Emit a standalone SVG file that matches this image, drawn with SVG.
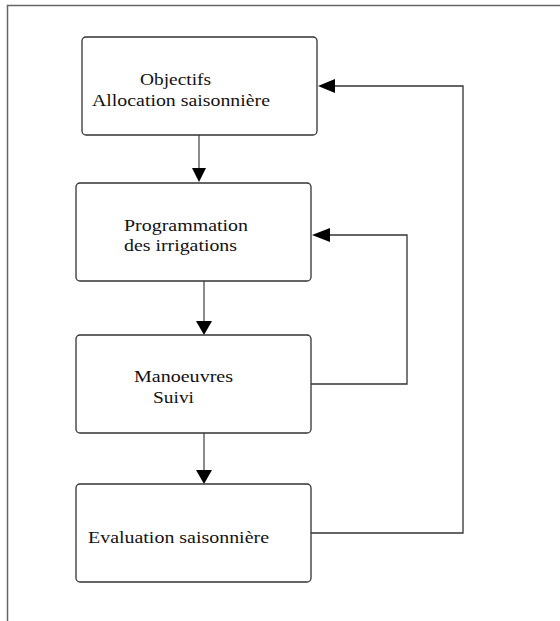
<svg xmlns="http://www.w3.org/2000/svg" width="560" height="621" viewBox="0 0 560 621">
<defs>
<style>
.box{fill:#fff;stroke:#333;stroke-width:1.3}
.ln{fill:none;stroke:#333;stroke-width:1.3}
.lg{fill:none;stroke:#666;stroke-width:1.5}
.ah{fill:#000;stroke:none}
text{font-family:"Liberation Serif","Times New Roman",serif;font-size:16.5px;fill:#111}
</style>
</defs>
<rect width="560" height="621" fill="#fff"/>
<path class="lg" d="M7.5,621 V5.5 H560"/>
<g id="connectors">
<line class="lg" x1="199" y1="135" x2="199" y2="168"/>
<polygon class="ah" points="192,168 206,168 199,182"/>
<line class="lg" x1="204" y1="281" x2="204" y2="321"/>
<polygon class="ah" points="196,321 212,321 204,335"/>
<line class="lg" x1="204" y1="433" x2="204" y2="470"/>
<polygon class="ah" points="196,470 212,470 204,484"/>
<polyline class="ln" points="311,384 407,384 407,235 330,235"/>
<polygon class="ah" points="330,228 330,242 312,235"/>
<polyline class="ln" points="311,533 463,533 463,86 335,86"/>
<polygon class="ah" points="335,79 335,93 318,86"/>
</g>
<g id="n1">
<rect class="box" x="82" y="37" width="235" height="98" rx="4"/>
<text x="140" y="85" textLength="71" lengthAdjust="spacingAndGlyphs">Objectifs</text>
<text x="92" y="106" textLength="178" lengthAdjust="spacingAndGlyphs">Allocation saisonnière</text>
</g>
<g id="n2">
<rect class="box" x="76" y="183" width="235" height="98" rx="4"/>
<text x="124" y="231" textLength="124" lengthAdjust="spacingAndGlyphs">Programmation</text>
<text x="124" y="251" textLength="113" lengthAdjust="spacingAndGlyphs">des irrigations</text>
</g>
<g id="n3">
<rect class="box" x="76" y="335" width="235" height="98" rx="4"/>
<text x="134" y="382" textLength="99" lengthAdjust="spacingAndGlyphs">Manoeuvres</text>
<text x="153" y="403" textLength="41" lengthAdjust="spacingAndGlyphs">Suivi</text>
</g>
<g id="n4">
<rect class="box" x="76" y="484" width="235" height="98" rx="4"/>
<text x="88" y="543" textLength="181" lengthAdjust="spacingAndGlyphs">Evaluation saisonnière</text>
</g>
</svg>
